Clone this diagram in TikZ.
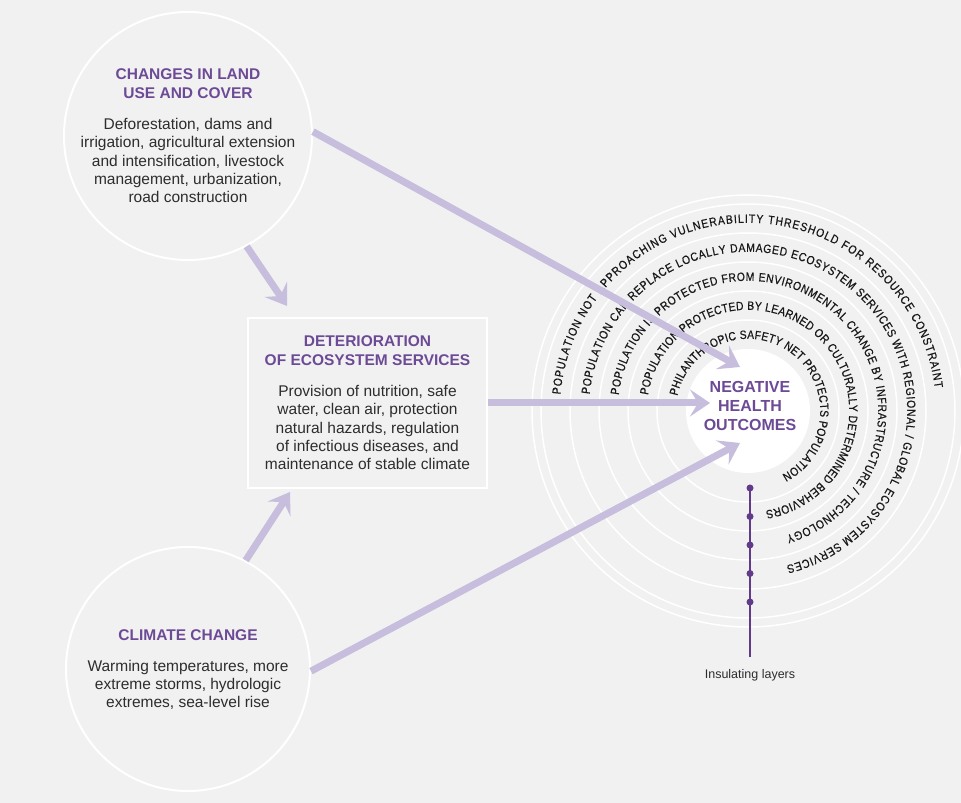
\documentclass[tikz,border=0pt]{standalone}
\usepackage{fontspec}
\setmainfont{Liberation Sans}
\newfontfamily\ringfamily[FakeStretch=0.86, FakeBold=0.6]{Liberation Sans}
\usetikzlibrary{arrows.meta,decorations.text}

\definecolor{bg}{RGB}{241,241,241}
\definecolor{hd}{RGB}{108,74,150}
\definecolor{bodytxt}{RGB}{45,45,45}
\definecolor{arr}{RGB}{199,189,221}
\definecolor{ins}{RGB}{98,58,138}
\definecolor{ringtxt}{RGB}{25,25,25}
\newcommand\hdline[1]{\textbf{\color{hd}#1}}

\begin{document}
\begin{tikzpicture}[x=1pt,y=1pt,
  circ/.style={circle, draw=white, line width=2pt, minimum size=248pt, inner sep=0pt},
  boxst/.style={rectangle, draw=white, line width=2pt, fill=bg, minimum width=239pt, minimum height=170pt, inner sep=0pt},
  bigarrow/.style={draw=arr, line width=7pt, -{Stealth[length=20pt,width=27pt,inset=8pt]}},
  ringline/.style={draw=white, line width=1.5pt},
  txt/.style={align=center, text=bodytxt, font=\fontsize{15.5}{18.3}\selectfont},
  ringdeco/.style={decorate, decoration={text along path, text color=ringtxt, text align={fit to path}, text={|\ringfamily\fontsize{12}{13}\selectfont|#1}}}
]
\useasboundingbox (0,0) rectangle (961,803);
\fill[bg] (0,0) rectangle (961,803);

% rings
\coordinate (ring) at (748,392);
\foreach \r in {91,120,149,178,207,216}
  \draw[ringline] (ring) circle[radius=\r pt];
\node[circle, fill=white, minimum size=124pt, inner sep=0pt] (nho) at (ring) {};

\path[ringdeco={PHILANTHROPIC SAFETY NET PROTECTS POPULATION}]
  (ring) ++(168:72.2pt) arc[start angle=168, end angle=-62, radius=72.2pt];
\path[ringdeco={POPULATION PROTECTED BY LEARNED OR CULTURALLY DETERMINED BEHAVIORS}]
  (ring) ++(171:101.2pt) arc[start angle=171, end angle=-80, radius=101.2pt];
\path[ringdeco={POPULATION IS PROTECTED FROM ENVIRONMENTAL CHANGE BY INFRASTRUCTURE / TECHNOLOGY}]
  (ring) ++(173:130.2pt) arc[start angle=173, end angle=-73, radius=130.2pt];
\path[ringdeco={POPULATION CAN REPLACE LOCALLY DAMAGED ECOSYSTEM SERVICES WITH REGIONAL / GLOBAL ECOSYSTEM SERVICES}]
  (ring) ++(174:159.2pt) arc[start angle=174, end angle=-76, radius=159.2pt];
\path[ringdeco={POPULATION NOT APPROACHING VULNERABILITY THRESHOLD FOR RESOURCE CONSTRAINT}]
  (ring) ++(175:188.2pt) arc[start angle=175, end angle=7, radius=188.2pt];

\node[align=center, font=\bfseries\fontsize{16}{19}\selectfont, text=hd] (nhotext) at (750,397) {NEGATIVE\\HEALTH\\OUTCOMES};

% insulating layers
\coordinate (insTop) at (750,315);
\coordinate (insBot) at (750,146);
\draw[ins, line width=2pt] (insTop) -- (insBot);
\foreach \y [count=\i] in {315,286.5,258,229.5,201}
  \node[circle, fill=ins, inner sep=0pt, minimum size=7pt] (dot\i) at (750,\y) {};
\node[font=\fontsize{12.5}{14}\selectfont, text=bodytxt] (inslabel) at (750,128) {Insulating layers};

% left side shapes
\node[circ] (lu) at (188,667) {};
\node[txt] (lutext) at (188,667) {\hdline{CHANGES IN LAND}\\ \hdline{USE AND COVER}\\[13pt]
  Deforestation, dams and\\ irrigation, agricultural extension\\ and intensification, livestock\\ management, urbanization,\\ road construction};

\node[boxst] (des) at (367.5,400) {};
\node[txt] (destext) at (367.5,400) {\hdline{DETERIORATION}\\ \hdline{OF ECOSYSTEM SERVICES}\\[13pt]
  Provision of nutrition, safe\\ water, clean air, protection\\ natural hazards, regulation\\ of infectious diseases, and\\ maintenance of stable climate};

\node[circ, minimum size=244pt] (cc) at (188,134) {};
\node[txt] (cctext) at (188,133) {\hdline{CLIMATE CHANGE}\\[12pt]
  Warming temperatures, more\\ extreme storms, hydrologic\\ extremes, sea-level rise};

% arrows
\coordinate (tipA) at (740,436);
\coordinate (tipB) at (287,497);
\coordinate (tipC) at (710,400);
\coordinate (tipD) at (290,311);
\coordinate (tipE) at (740,360);
\draw[bigarrow] (lu.2) -- (tipA);
\draw[bigarrow] (lu.-62) -- (tipB);
\draw[bigarrow] (des.east) -- (tipC);
\draw[bigarrow] (cc.62) -- (tipD);
\draw[bigarrow] (cc.-1) -- (tipE);
\end{tikzpicture}
\end{document}
